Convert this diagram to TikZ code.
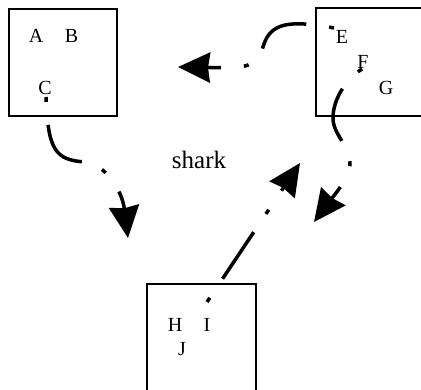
\documentclass[tikz,border=0pt]{standalone}
\usepackage{fontspec}
\setmainfont{Liberation Serif}
\usetikzlibrary{arrows.meta}
\begin{document}
\begin{tikzpicture}[x=1pt,y=-1pt,
  box/.style={draw=black,line width=1.6pt,inner sep=0pt},
  lbl/.style={inner sep=0pt,anchor=base,font=\fontsize{20}{24}\selectfont},
  conn/.style={line width=3.5pt,dash pattern=on 5pt off 23pt on 56pt off 22pt,
    -{Stealth[length=32pt,width=30pt,inset=2pt]}}]
\useasboundingbox (0,0) rectangle (421,390);
% boxes
\node[box,minimum width=108pt,minimum height=107pt] (b1) at (63,62.5) {};
\node[box,minimum width=108pt,minimum height=108pt] (b2) at (370,62) {};
\node[box,minimum width=109pt,minimum height=108pt] (b3) at (201.5,338) {};
% labels
\node[lbl] (A) at (36,43) {A};
\node[lbl] (B) at (71.5,43) {B};
\node[lbl] (C) at (45,95) {C};
\node[lbl] (E) at (342,43.3) {E};
\node[lbl] (F) at (363,68.3) {F};
\node[lbl] (G) at (386,95) {G};
\node[lbl] (H) at (175,331.7) {H};
\node[lbl] (I) at (207,331.7) {I};
\node[lbl] (J) at (182,356) {J};
\node[lbl,font=\fontsize{25}{30}\selectfont] (shark) at (199,168.3) {shark};
% connector end points
\coordinate (s1) at (46,97);
\coordinate (m1) at (85,162);
\coordinate (t1) at (128,238);
\coordinate (s2) at (334,28);
\coordinate (m2) at (263,47);
\coordinate (t2) at (178,67);
\coordinate (s3) at (362,69);
\coordinate (m3a) at (333,118);
\coordinate (m3b) at (350,165);
\coordinate (t3) at (314,222);
\coordinate (s4) at (207,302);
\coordinate (t4) at (300,163);
% connectors
\draw[conn] (s1) .. controls (48,150) and (55,160) .. (m1)
  .. controls (105,164) and (122,190) .. (t1);
\draw[conn] (s2) .. controls (290,20) and (270,22) .. (m2)
  .. controls (256,70) and (240,68) .. (t2);
\draw[conn] (s3) .. controls (345,80) and (333,100) .. (m3a)
  .. controls (333,135) and (350,145) .. (m3b)
  .. controls (348,180) and (332,198) .. (t3);
\draw[conn] (s4) -- (t4);
\end{tikzpicture}
\end{document}
